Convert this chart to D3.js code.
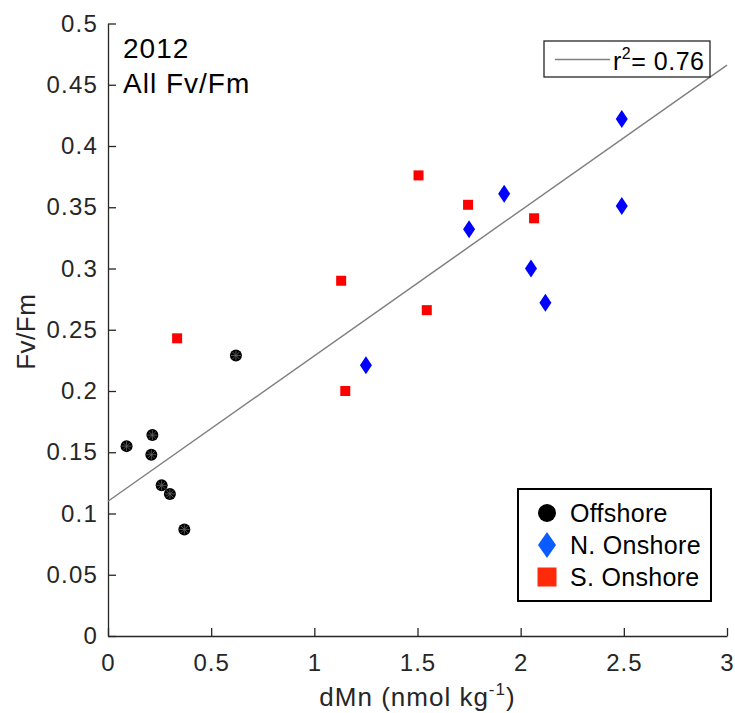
<!DOCTYPE html>
<html>
<head>
<meta charset="utf-8">
<script src="https://cdn.jsdelivr.net/npm/d3@7"></script>
<style>
  body { margin: 0; background: #fff; }
  svg { font-family: "Liberation Sans", Arial, sans-serif; }
</style>
</head>
<body>
<div id="chart"></div>
<script>
// values
const offshoreX = [0.09, 0.215, 0.21, 0.26, 0.30, 0.37, 0.62];
const offshoreY = [0.155, 0.164, 0.148, 0.123, 0.116, 0.087, 0.229];
const northX = [2.49, 1.92, 1.75, 2.49, 2.05, 2.12, 1.25];
const northY = [0.422, 0.361, 0.332, 0.351, 0.300, 0.272, 0.221];
const southX = [1.505, 1.745, 2.065, 1.13, 1.545, 0.335, 1.15];
const southY = [0.376, 0.352, 0.341, 0.290, 0.266, 0.243, 0.200];
const fitIntercept = 0.11;
const fitSlope = 0.1187;
const fitRange = [0, 3];
const xTicks = [0, 0.5, 1, 1.5, 2, 2.5, 3];
const yTicks = [0, 0.05, 0.1, 0.15, 0.2, 0.25, 0.3, 0.35, 0.4, 0.45, 0.5];
const seriesNames = ['Offshore', 'N. Onshore', 'S. Onshore'];

const width = 735, height = 713;
const margin = {top: 23.5, right: 8, bottom: 77, left: 108};
const axisColor = '#262626';

const svg = d3.select('#chart').append('svg')
  .attr('width', width)
  .attr('height', height);

const x = d3.scaleLinear().domain([0, 3]).range([margin.left, width - margin.right]);
const y = d3.scaleLinear().domain([0, 0.5]).range([height - margin.bottom, margin.top]);

const fmt = d => String(+d.toFixed(2));

// axes, ticks pointing inward
svg.append('g')
  .attr('transform', `translate(0,${y(0)})`)
  .call(d3.axisBottom(x).tickValues(xTicks).tickFormat(fmt).tickSize(-8).tickSizeOuter(0).tickPadding(18))
  .call(g => g.selectAll('path, line').attr('stroke', axisColor).attr('stroke-width', 1.3))
  .call(g => g.selectAll('text').attr('fill', axisColor).attr('font-size', 24).attr('letter-spacing', 1));

svg.append('g')
  .attr('transform', `translate(${x(0)},0)`)
  .call(d3.axisLeft(y).tickValues(yTicks).tickFormat(fmt).tickSize(-8).tickSizeOuter(0).tickPadding(10))
  .call(g => g.selectAll('path, line').attr('stroke', axisColor).attr('stroke-width', 1.3))
  .call(g => g.selectAll('text').attr('fill', axisColor).attr('font-size', 24).attr('letter-spacing', 1.2));

// axis labels
const xl = svg.append('text')
  .attr('x', (x(0) + x(3)) / 2)
  .attr('y', 706)
  .attr('text-anchor', 'middle')
  .attr('font-size', 26)
  .attr('letter-spacing', 1)
  .attr('fill', axisColor);
xl.append('tspan').text('dMn (nmol kg');
xl.append('tspan').attr('dy', -11).attr('font-size', 17).text('-1');
xl.append('tspan').attr('dy', 11).text(')');

svg.append('text')
  .attr('transform', `translate(35,${(y(0) + y(0.5)) / 2 + 2}) rotate(-90)`)
  .attr('text-anchor', 'middle')
  .attr('font-size', 26)
  .attr('letter-spacing', 0.5)
  .attr('fill', axisColor)
  .text('Fv/Fm');

// title
svg.append('text').attr('x', 123).attr('y', 58).attr('font-size', 28).attr('letter-spacing', 1).text('2012');
svg.append('text').attr('x', 123).attr('y', 93).attr('font-size', 28).attr('letter-spacing', 1).text('All Fv/Fm');

// regression line
svg.append('line')
  .attr('x1', x(fitRange[0])).attr('y1', y(fitIntercept + fitSlope * fitRange[0]))
  .attr('x2', x(fitRange[1])).attr('y2', y(fitIntercept + fitSlope * fitRange[1]))
  .attr('stroke', '#808080')
  .attr('stroke-width', 1.5);

// markers
function drawCircle(g, cx, cy, r) {
  g.append('circle').attr('cx', cx).attr('cy', cy).attr('r', r).attr('fill', '#000');
}
function drawStar(g, cx, cy, r) {
  for (let a = 0; a < 4; a++) {
    const t = a * Math.PI / 4;
    g.append('line')
      .attr('x1', cx - r * Math.cos(t)).attr('y1', cy - r * Math.sin(t))
      .attr('x2', cx + r * Math.cos(t)).attr('y2', cy + r * Math.sin(t))
      .attr('stroke', '#666').attr('stroke-width', 0.8);
  }
}
function drawDiamond(g, cx, cy, w, h, color) {
  g.append('path')
    .attr('d', `M${cx},${cy - h}L${cx + w},${cy}L${cx},${cy + h}L${cx - w},${cy}Z`)
    .attr('fill', color);
}
function drawSquare(g, cx, cy, s, color) {
  g.append('rect').attr('x', cx - s / 2).attr('y', cy - s / 2)
    .attr('width', s).attr('height', s).attr('fill', color);
}

const pts = svg.append('g');
offshoreX.forEach((v, i) => {
  drawCircle(pts, x(v), y(offshoreY[i]), 6);
  drawStar(pts, x(v), y(offshoreY[i]), 5);
});
northX.forEach((v, i) => drawDiamond(pts, x(v), y(northY[i]), 6, 9, '#0000ff'));
southX.forEach((v, i) => drawSquare(pts, x(v), y(southY[i]), 10, '#ff0000'));

// fit legend
const fl = svg.append('g');
fl.append('rect').attr('x', 544).attr('y', 41).attr('width', 166).attr('height', 36)
  .attr('fill', '#fff').attr('stroke', '#262626').attr('stroke-width', 1.3);
fl.append('line').attr('x1', 555).attr('x2', 610).attr('y1', 59.5).attr('y2', 59.5)
  .attr('stroke', '#808080').attr('stroke-width', 1.5);
const ft = fl.append('text').attr('x', 613).attr('y', 70).attr('font-size', 25).attr('letter-spacing', 0.5);
ft.append('tspan').text('r');
ft.append('tspan').attr('dy', -11).attr('font-size', 16).text('2');
ft.append('tspan').attr('dy', 11).text('= 0.76');

// series legend
const lg = svg.append('g');
lg.append('rect').attr('x', 518).attr('y', 489).attr('width', 193).attr('height', 112)
  .attr('fill', '#fff').attr('stroke', '#000').attr('stroke-width', 2);
const legendRows = [513, 545, 577];
drawCircle(lg, 547, legendRows[0], 9);
drawDiamond(lg, 547, legendRows[1], 9, 13, '#0a5cff');
drawSquare(lg, 547, legendRows[2], 19, '#ff2a0a');
seriesNames.forEach((name, i) => {
  lg.append('text').attr('x', 570).attr('y', legendRows[i] + 9)
    .attr('font-size', 25).attr('letter-spacing', 0.3).text(name);
});
</script>
</body>
</html>
